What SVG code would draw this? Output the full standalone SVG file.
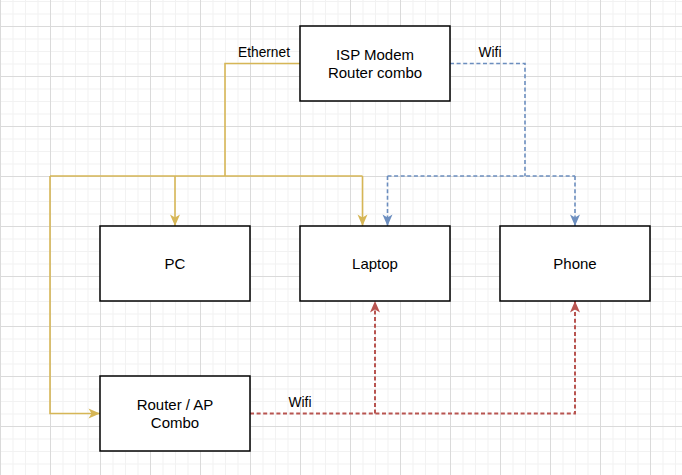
<svg xmlns="http://www.w3.org/2000/svg" width="682" height="475" viewBox="0 0 682 475">
<style>
.node rect{fill:#fff;stroke:#000;stroke-width:1.5}
.node text{font-family:"Liberation Sans",Arial,sans-serif;font-size:15px;fill:#000;text-anchor:middle}
.lbl{font-family:"Liberation Sans",Arial,sans-serif;font-size:13.75px;fill:#000;text-anchor:middle}
.eth{fill:none;stroke:#d6b656;stroke-width:1.6}
.wb{fill:none;stroke:#6c8ebf;stroke-width:1.6;stroke-dasharray:4 2.6}
.wr{fill:none;stroke:#b85450;stroke-width:2;stroke-dasharray:4 2.6}
</style>
<defs>
<pattern id="grid" patternUnits="userSpaceOnUse" x="0" y="26" width="50" height="50">
<rect x="0" y="0" width="50" height="50" fill="#fff"/>
<g fill="#f2f2f2">
<rect x="12.5" y="0" width="1" height="50"/>
<rect x="25" y="0" width="1" height="50"/>
<rect x="37.5" y="0" width="1" height="50"/>
<rect x="0" y="12.5" width="50" height="1"/>
<rect x="0" y="25" width="50" height="1"/>
<rect x="0" y="37.5" width="50" height="1"/>
</g>
<g fill="#dadada">
<rect x="0" y="0" width="1" height="50"/>
<rect x="0" y="0" width="50" height="1"/>
</g>
</pattern>
<marker id="ay" markerUnits="userSpaceOnUse" viewBox="-12 -6 13 12" refX="0" refY="0" markerWidth="13" markerHeight="12" orient="auto"><path d="M0,0 L-11.5,-5 L-8.5,0 L-11.5,5 Z" fill="#d6b656"/></marker>
<marker id="ab" markerUnits="userSpaceOnUse" viewBox="-12 -6 13 12" refX="0" refY="0" markerWidth="13" markerHeight="12" orient="auto"><path d="M0,0 L-11.5,-5 L-8.5,0 L-11.5,5 Z" fill="#6c8ebf"/></marker>
<marker id="ar" markerUnits="userSpaceOnUse" viewBox="-12 -6 13 12" refX="0" refY="0" markerWidth="13" markerHeight="12" orient="auto"><path d="M0,0 L-11.5,-5 L-8.5,0 L-11.5,5 Z" fill="#b85450"/></marker>
</defs>
<rect width="682" height="475" fill="url(#grid)"/>
<g id="connectors">
<path class="eth" d="M300,63.5 H225 V176"/>
<path class="eth" d="M50,176 H362.5"/>
<path class="eth" d="M175,176 V226" marker-end="url(#ay)"/>
<path class="eth" d="M362.5,176 V226" marker-end="url(#ay)"/>
<path class="eth" d="M50,176 V413.5 H100" marker-end="url(#ay)"/>
<path class="wb" d="M450,63.5 H525 V176"/>
<path class="wb" d="M387.5,176 H575"/>
<path class="wb" d="M387.5,176 V226" marker-end="url(#ab)"/>
<path class="wb" d="M575,176 V226" marker-end="url(#ab)"/>
<path class="wr" d="M250,413.5 H575 V301" marker-end="url(#ar)"/>
<path class="wr" d="M375,413.5 V301" marker-end="url(#ar)"/>
<text class="lbl" x="264" y="56.5">Ethernet</text>
<text class="lbl" x="490" y="57">Wifi</text>
<text class="lbl" x="300" y="406.5">Wifi</text>
</g>
<g id="isp" class="node"><rect x="300" y="26" width="150" height="75"/><text x="375" y="59.5">ISP Modem</text><text x="375" y="77.5">Router combo</text></g>
<g id="pc" class="node"><rect x="100" y="226" width="150" height="75"/><text x="175" y="269">PC</text></g>
<g id="laptop" class="node"><rect x="300" y="226" width="150" height="75"/><text x="375" y="269">Laptop</text></g>
<g id="phone" class="node"><rect x="500" y="226" width="150" height="75"/><text x="575" y="269">Phone</text></g>
<g id="router" class="node"><rect x="100" y="376" width="150" height="75"/><text x="175" y="409.5">Router / AP</text><text x="175" y="427.5">Combo</text></g>
</svg>
